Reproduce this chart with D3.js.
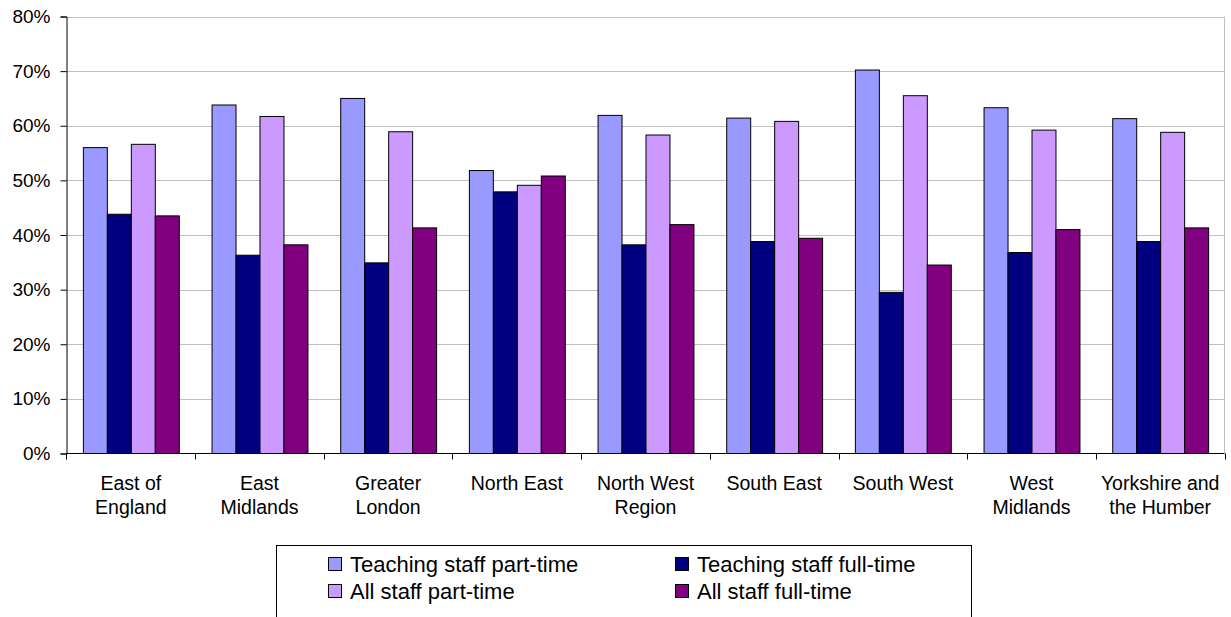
<!DOCTYPE html>
<html>
<head>
<meta charset="utf-8">
<script src="https://cdn.jsdelivr.net/npm/d3@7"></script>
<style>
  html, body { margin: 0; padding: 0; background: #fff; }
  svg { display: block; font-family: "Liberation Sans", Arial, sans-serif; }
</style>
</head>
<body>
<svg id="chart" width="1231" height="617"></svg>
<script>
// Regions along the x axis (each may wrap onto two lines)
const regions = [
  ["East of", "England"],
  ["East", "Midlands"],
  ["Greater", "London"],
  ["North East"],
  ["North West", "Region"],
  ["South East"],
  ["South West"],
  ["West", "Midlands"],
  ["Yorkshire and", "the Humber"]
];

const seriesNames = [
  "Teaching staff part-time",
  "Teaching staff full-time",
  "All staff part-time",
  "All staff full-time"
];

// Percentages per region, one array per series
const teachingPartTime = [56.0, 63.8, 65.0, 51.8, 61.9, 61.4, 70.2, 63.3, 61.3];
const teachingFullTime = [43.8, 36.3, 34.9, 47.9, 38.2, 38.8, 29.5, 36.8, 38.8];
const allPartTime      = [56.6, 61.7, 58.9, 49.1, 58.3, 60.8, 65.5, 59.2, 58.8];
const allFullTime      = [43.5, 38.2, 41.3, 50.8, 41.9, 39.4, 34.5, 41.0, 41.3];

const yTicks = [0, 10, 20, 30, 40, 50, 60, 70, 80];
const colors = ["#9999FF", "#000080", "#CC99FF", "#800080"];

const seriesValues = [teachingPartTime, teachingFullTime, allPartTime, allFullTime];

const svg = d3.select("#chart");
const plotLeft = 66.5, plotRight = 1224.5, plotTop = 16.5, plotBottom = 453.5;

const regionKeys = regions.map(r => r.join(" "));

const x0 = d3.scaleBand()
  .domain(regionKeys)
  .range([plotLeft, plotRight])
  .paddingInner(0.2547)
  .paddingOuter(0.1273);

const x1 = d3.scaleBand()
  .domain(seriesNames)
  .range([0, x0.bandwidth()]);

const y = d3.scaleLinear().domain([0, 80]).range([plotBottom, plotTop]);

// Gridlines
svg.append("g")
  .selectAll("line")
  .data(yTicks.filter(t => t > 0))
  .join("line")
  .attr("x1", plotLeft).attr("x2", plotRight)
  .attr("y1", d => Math.round(y(d)) + 0.5).attr("y2", d => Math.round(y(d)) + 0.5)
  .attr("stroke", "#c0c0c0").attr("stroke-width", 1);

// Right border of plot area
svg.append("line")
  .attr("x1", plotRight).attr("x2", plotRight)
  .attr("y1", plotTop).attr("y2", plotBottom)
  .attr("stroke", "#c0c0c0");

// Bars
const groups = svg.append("g")
  .selectAll("g")
  .data(regionKeys)
  .join("g")
  .attr("transform", d => `translate(${x0(d)},0)`);

groups.selectAll("rect")
  .data((d, i) => seriesNames.map((s, j) => ({ s, j, v: seriesValues[j][i] })))
  .join("rect")
  .attr("x", d => x1(d.s) + 0.5)
  .attr("y", d => y(d.v))
  .attr("width", x1.bandwidth())
  .attr("height", d => y(0) - y(d.v))
  .attr("fill", d => colors[d.j])
  .attr("stroke", "#000")
  .attr("stroke-width", 1);

// Y axis
const yAxis = d3.axisLeft(y)
  .tickValues(yTicks)
  .tickSize(6)
  .tickPadding(10)
  .tickFormat(d => d + "%");

const yg = svg.append("g")
  .attr("transform", `translate(${plotLeft},0)`)
  .call(yAxis);
yg.select(".domain").attr("stroke", "#000");
yg.selectAll(".tick line").attr("stroke", "#000");
yg.selectAll(".tick text")
  .attr("font-size", 19)
  .attr("font-family", "Liberation Sans, Arial, sans-serif")
  .attr("fill", "#000");

// X axis line and boundary ticks
const boundaries = regionKeys.map(k => x0(k) - x0.step() * x0.paddingInner() / 2);
boundaries.push(plotRight);
svg.append("line")
  .attr("x1", plotLeft).attr("x2", plotRight)
  .attr("y1", plotBottom).attr("y2", plotBottom)
  .attr("stroke", "#000");
svg.append("g")
  .selectAll("line")
  .data(boundaries)
  .join("line")
  .attr("x1", d => Math.round(d) + 0.5).attr("x2", d => Math.round(d) + 0.5)
  .attr("y1", plotBottom).attr("y2", plotBottom + 6)
  .attr("stroke", "#000");

// Category labels
const labels = svg.append("g")
  .selectAll("text")
  .data(regions)
  .join("text")
  .attr("x", (d, i) => x0(regionKeys[i]) + x0.bandwidth() / 2)
  .attr("y", 490)
  .attr("text-anchor", "middle")
  .attr("font-size", 19.5)
  .attr("fill", "#000");
labels.selectAll("tspan")
  .data(d => d)
  .join("tspan")
  .attr("x", function () { return d3.select(this.parentNode).attr("x"); })
  .attr("dy", (d, i) => i === 0 ? 0 : 24)
  .text(d => d);

// Legend
const legend = svg.append("g");
legend.append("rect")
  .attr("x", 276.5).attr("y", 545.5)
  .attr("width", 695).attr("height", 100)
  .attr("fill", "#fff")
  .attr("stroke", "#000").attr("stroke-width", 1);

const legendPos = [
  { x: 328.5, y: 557.5 },
  { x: 675.5, y: 557.5 },
  { x: 328.5, y: 584.5 },
  { x: 675.5, y: 584.5 }
];
const items = legend.selectAll("g.item")
  .data(seriesNames)
  .join("g")
  .attr("class", "item")
  .attr("transform", (d, i) => `translate(${legendPos[i].x},${legendPos[i].y})`);
items.append("rect")
  .attr("width", 13).attr("height", 13)
  .attr("fill", (d, i) => colors[i])
  .attr("stroke", "#000");
items.append("text")
  .attr("x", 21.5).attr("y", 14.5)
  .attr("font-size", 22)
  .attr("fill", "#000")
  .text(d => d);
</script>
</body>
</html>
